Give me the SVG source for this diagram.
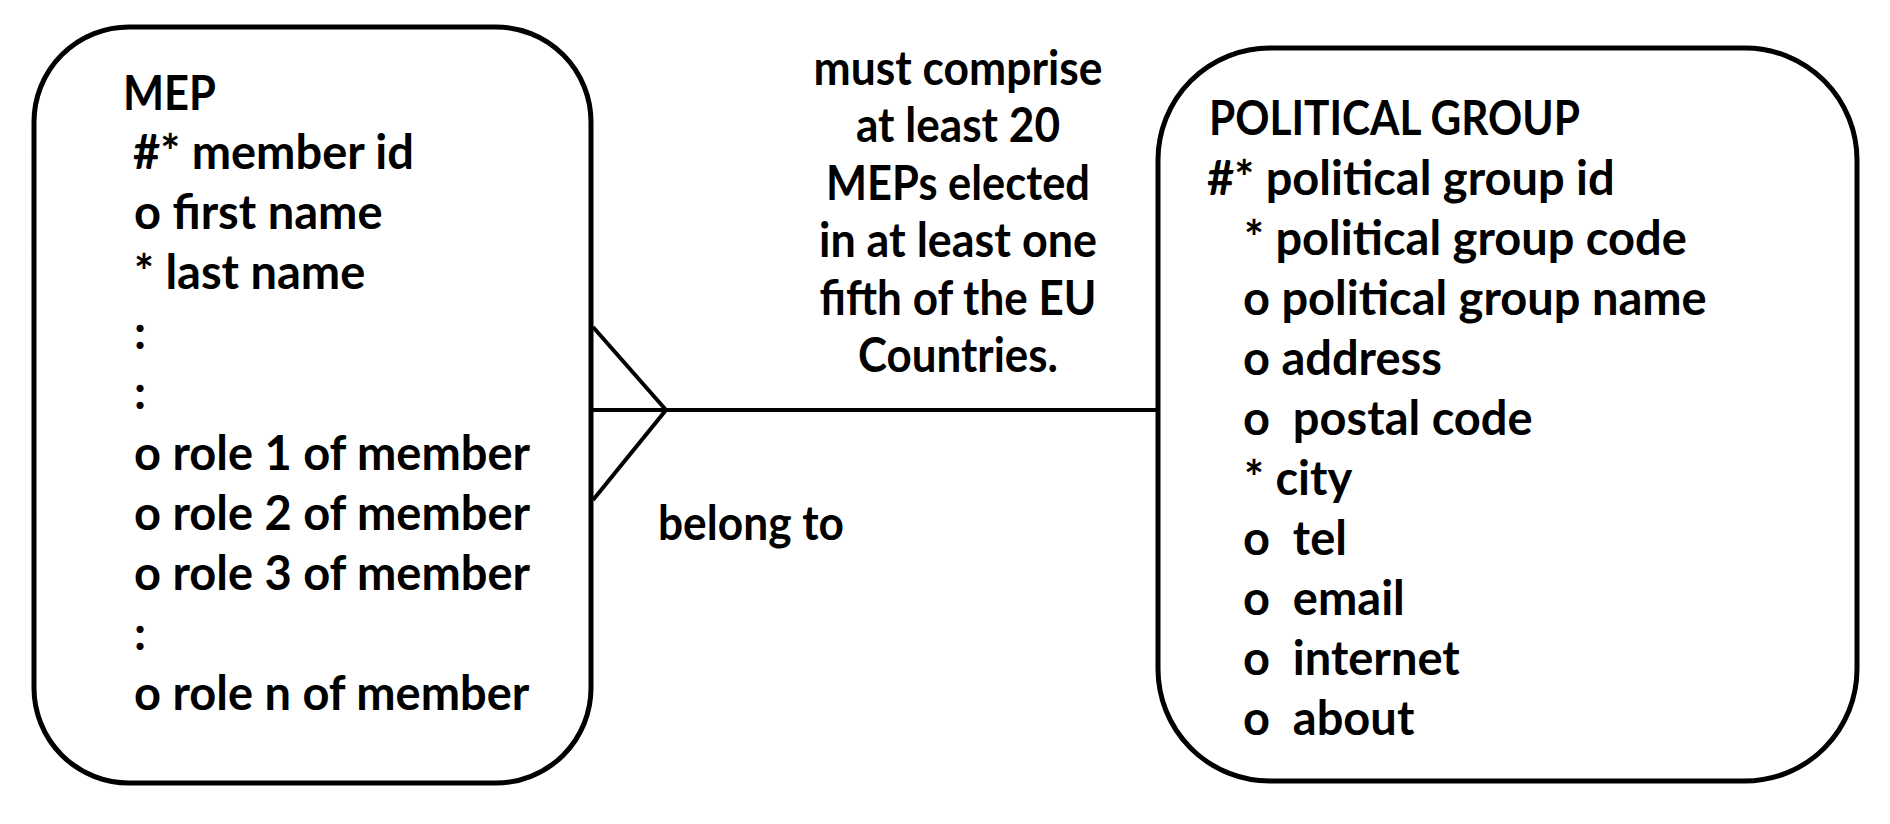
<svg xmlns="http://www.w3.org/2000/svg" width="1890" height="824" viewBox="0 0 1890 824">
<style>
.box{fill:#fff;stroke:#000;stroke-width:5}
.ln{fill:none;stroke:#000;stroke-width:4;stroke-linecap:butt;stroke-linejoin:miter}
text{font-family:Lato,"Open Sans","Liberation Sans",sans-serif;font-weight:bold;font-size:47px;fill:#000;white-space:pre}
.mid{text-anchor:middle}
</style>
<rect width="1890" height="824" fill="#fff"/>
<g id="connectors">
<line class="ln" x1="588" y1="410" x2="1158" y2="410"/>
<polyline class="ln" points="593,327 666,410 593,500"/>
<text x="658" y="540" textLength="186" lengthAdjust="spacingAndGlyphs">belong to</text>
<text class="mid" x="958" y="85" textLength="289" lengthAdjust="spacingAndGlyphs">must comprise</text>
<text class="mid" x="958" y="142" textLength="204" lengthAdjust="spacingAndGlyphs">at least 20</text>
<text class="mid" x="958" y="200" textLength="264" lengthAdjust="spacingAndGlyphs">MEPs elected</text>
<text class="mid" x="958" y="257" textLength="278" lengthAdjust="spacingAndGlyphs">in at least one</text>
<text class="mid" x="958" y="315" textLength="277" lengthAdjust="spacingAndGlyphs">fifth of the EU</text>
<text class="mid" x="958" y="372" textLength="200" lengthAdjust="spacingAndGlyphs">Countries.</text>
</g>
<g id="mep">
<rect class="box" x="34" y="27" width="557" height="756" rx="95" ry="95"/>
<text x="123" y="110" textLength="93" lengthAdjust="spacingAndGlyphs">MEP</text>
<text x="133" y="169">#* member id</text>
<text x="134" y="229">o first name</text>
<text x="134" y="289">* last name</text>
<text x="134" y="349">:</text>
<text x="134" y="409">:</text>
<text x="134" y="470">o role 1 of member</text>
<text x="134" y="530">o role 2 of member</text>
<text x="134" y="590">o role 3 of member</text>
<text x="134" y="650">:</text>
<text x="134" y="710">o role n of member</text>
</g>
<g id="political-group">
<rect class="box" x="1158" y="48" width="699" height="733" rx="112" ry="112"/>
<text x="1209" y="135" textLength="371" lengthAdjust="spacingAndGlyphs">POLITICAL GROUP</text>
<text x="1207" y="195">#* political group id</text>
<text x="1244" y="255">* political group code</text>
<text x="1243" y="315">o political group name</text>
<text x="1243" y="375">o address</text>
<text x="1243" y="435">o  postal code</text>
<text x="1244" y="495">* city</text>
<text x="1243" y="555">o  tel</text>
<text x="1243" y="615">o  email</text>
<text x="1243" y="675">o  internet</text>
<text x="1243" y="735">o  about</text>
</g>
</svg>
